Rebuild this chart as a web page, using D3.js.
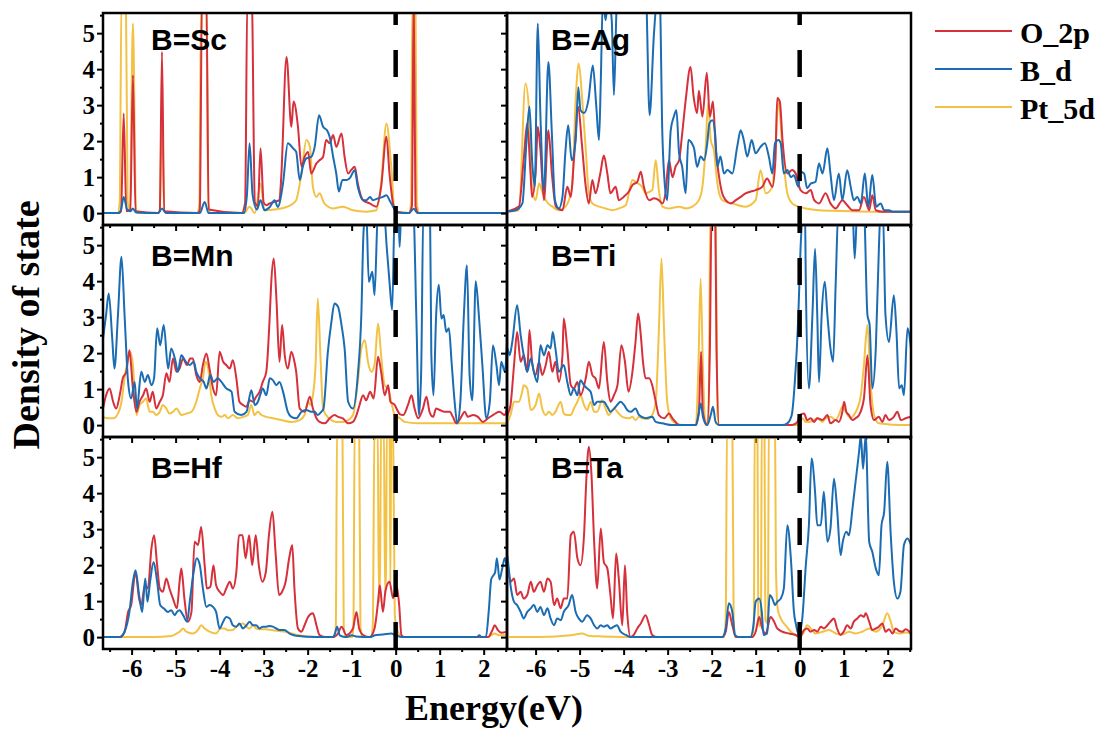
<!DOCTYPE html>
<html>
<head>
<meta charset="utf-8">
<script src="https://cdn.jsdelivr.net/npm/d3@7"></script>
<style>
  html, body { margin: 0; padding: 0; background: #fff; }
  svg { display: block; }
</style>
</head>
<body>
<svg id="chart" width="1115" height="740"></svg>
<script>
// ---- axis ticks and labels ----
const energyTicks = [-6, -5, -4, -3, -2, -1, 0, 1, 2];
const energyMinor = [-6.5, -5.5, -4.5, -3.5, -2.5, -1.5, -0.5, 0.5, 1.5, 2.5];
const dosTicks = [0, 1, 2, 3, 4, 5];
const dosMinor = [0.5, 1.5, 2.5, 3.5, 4.5, 5.5];
const seriesNames = ["O_2p", "B_d", "Pt_5d"];
const panelLabels = ["B=Sc", "B=Ag", "B=Mn", "B=Ti", "B=Hf", "B=Ta"];

// ---- projected DOS, [energy (eV), states] ----
const scO2p = [[-6.65,0],[-6.3,0],[-6.24,0.05],[-6.18,2.77],[-6.12,0.05],[-6.03,0.1],[-5.97,3.83],[-5.91,0.05],[-5.4,0],[-5.36,0.05],[-5.31,4.48],[-5.26,0.05],[-4.5,0],[-4.45,0.1],[-4.4,6],[-4.3,6],[-4.25,0.1],[-3.5,0],[-3.42,0.3],[-3.37,6],[-3.27,6],[-3.2,0.3],[-3.13,0.2],[-3.07,1.8],[-3.0,0.3],[-2.94,0.22],[-2.86,0.27],[-2.75,0.32],[-2.64,0.36],[-2.6,1.0],[-2.48,4.34],[-2.37,2.4],[-2.32,3.1],[-2.22,2.4],[-2.14,1.29],[-2.07,1.56],[-1.99,1.7],[-1.92,1.1],[-1.8,1.38],[-1.73,1.47],[-1.65,1.56],[-1.58,2.03],[-1.5,1.94],[-1.42,2.17],[-1.35,1.84],[-1.23,2.21],[-1.16,1.56],[-1.08,1.1],[-1.01,1.2],[-0.93,1.29],[-0.86,0.82],[-0.74,0.36],[-0.59,0.27],[-0.44,0.18],[-0.33,0.73],[-0.21,2.12],[-0.14,1.1],[-0.06,0.27],[0.02,0.03],[0.3,0],[0.37,0.2],[0.41,6],[0.45,0.2],[0.52,0],[2.53,0]];
const scBd = [[-6.65,0],[-6.3,0],[-6.24,0.1],[-6.18,0.45],[-6.1,0.1],[-6.03,0.05],[-5.97,0.13],[-5.9,0.02],[-5.4,0],[-5.31,0.13],[-5.22,0],[-4.45,0],[-4.34,0.31],[-4.25,0],[-3.45,0],[-3.38,0.5],[-3.32,1.94],[-3.25,0.5],[-3.15,0.1],[-3.07,0.36],[-2.98,0.08],[-2.86,0.17],[-2.75,0.36],[-2.68,0.17],[-2.56,0.82],[-2.45,1.94],[-2.33,1.8],[-2.26,1.7],[-2.18,0.92],[-2.11,1.29],[-2.03,1.52],[-1.92,1.56],[-1.84,1.84],[-1.74,2.72],[-1.65,2.4],[-1.56,2.3],[-1.5,2.12],[-1.42,1.56],[-1.35,1.1],[-1.29,0.6],[-1.21,0.92],[-1.12,0.92],[-1.05,0.96],[-0.93,1.19],[-0.86,0.73],[-0.74,0.36],[-0.67,0.36],[-0.58,0.45],[-0.52,0.36],[-0.4,0.41],[-0.29,0.45],[-0.21,0.5],[-0.14,0.36],[-0.06,0.18],[0.03,0.02],[0.3,0],[0.41,0.12],[0.5,0],[2.53,0]];
const scPt5d = [[-6.65,0],[-6.32,0],[-6.27,0.3],[-6.23,6],[-6.13,6],[-6.09,0.3],[-6.04,0.1],[-5.97,5.27],[-5.9,0.1],[-5.84,0],[-5.4,0],[-5.36,0.1],[-5.31,2.9],[-5.26,0.1],[-5.2,0],[-4.5,0],[-4.46,0.3],[-4.42,6],[-4.3,6],[-4.26,0.3],[-4.2,0],[-3.45,0],[-3.32,0.18],[-3.2,0],[-3.07,0.82],[-2.98,0.08],[-2.75,0.1],[-2.48,0.17],[-2.33,0.27],[-2.26,0.36],[-2.14,1.1],[-2.03,2.03],[-1.95,1.85],[-1.88,0.73],[-1.8,0.45],[-1.73,0.55],[-1.62,0.27],[-1.42,0.13],[-1.2,0.18],[-0.97,0.08],[-0.67,0.04],[-0.44,0.08],[-0.33,0.82],[-0.21,2.49],[-0.1,1.29],[-0.02,0.05],[0.3,0],[0.35,0.3],[0.38,6],[0.45,6],[0.48,0.3],[0.54,0],[2.53,0]];

const agO2p = [[-6.68,0.04],[-6.38,0.18],[-6.27,1.5],[-6.19,2.5],[-6.12,1.2],[-6.08,0.45],[-6.0,1.1],[-5.95,2.4],[-5.89,1.75],[-5.81,0.36],[-5.71,2.3],[-5.63,1.1],[-5.54,0.18],[-5.39,0.08],[-5.28,0.73],[-5.2,0.45],[-5.13,1.47],[-5.03,2.95],[-4.95,1.94],[-4.86,0.73],[-4.79,0.27],[-4.71,0.92],[-4.64,0.55],[-4.53,1.1],[-4.45,1.6],[-4.37,1.1],[-4.3,0.55],[-4.18,0.73],[-4.11,0.36],[-4.0,0.45],[-3.88,0.6],[-3.8,0.78],[-3.69,0.87],[-3.61,1.15],[-3.54,0.73],[-3.42,0.36],[-3.31,0.41],[-3.2,0.36],[-3.12,0.27],[-3.05,0.55],[-2.97,1.47],[-2.89,1.0],[-2.82,1.29],[-2.74,1.47],[-2.67,2.2],[-2.59,3.14],[-2.48,4.06],[-2.41,3.24],[-2.33,2.78],[-2.29,3.4],[-2.21,2.68],[-2.11,3.9],[-2.04,2.68],[-1.97,3.1],[-1.91,1.84],[-1.83,1.0],[-1.76,0.55],[-1.68,0.36],[-1.57,0.27],[-1.45,0.36],[-1.34,0.45],[-1.23,0.55],[-1.11,0.6],[-1.0,0.64],[-0.85,0.73],[-0.74,0.96],[-0.62,0.73],[-0.55,1.5],[-0.51,3.2],[-0.45,3.1],[-0.39,2.03],[-0.28,1.1],[-0.17,1.2],[-0.09,1.1],[0.02,0.64],[0.14,0.55],[0.25,0.64],[0.33,0.36],[0.44,0.27],[0.59,0.55],[0.7,0.27],[0.82,0.13],[0.97,0.36],[1.08,0.22],[1.2,0.08],[1.35,0.08],[1.46,0.45],[1.58,0.08],[1.65,0.5],[1.73,0.08],[1.88,0.04],[2.53,0.04]];
const agBd = [[-6.68,0.04],[-6.45,0.08],[-6.3,0.27],[-6.21,1.94],[-6.14,2.96],[-6.08,1.47],[-6.02,0.73],[-5.95,5.27],[-5.89,2.68],[-5.81,0.64],[-5.71,4.2],[-5.63,2.2],[-5.56,0.36],[-5.47,0.13],[-5.39,0.45],[-5.32,1.75],[-5.26,2.44],[-5.18,1.47],[-5.09,2.03],[-5.03,3.5],[-4.98,2.86],[-4.9,2.78],[-4.8,3.14],[-4.7,4.1],[-4.62,2.95],[-4.56,2.03],[-4.52,3.6],[-4.47,6],[-4.41,5.36],[-4.35,6],[-4.27,5.36],[-4.22,3.28],[-4.15,6],[-4.07,6.3],[-3.5,6.3],[-3.41,2.72],[-3.31,5.0],[-3.23,6],[-3.18,6],[-3.12,2.2],[-3.06,0.73],[-3.01,0.36],[-2.93,2.3],[-2.86,2.68],[-2.8,2.86],[-2.74,1.66],[-2.67,1.29],[-2.59,0.55],[-2.53,2.03],[-2.45,1.94],[-2.4,1.8],[-2.33,1.29],[-2.25,1.57],[-2.17,1.47],[-2.1,1.94],[-2.05,2.5],[-1.98,2.58],[-1.92,2.2],[-1.87,1.29],[-1.8,1.57],[-1.72,1.1],[-1.64,1.2],[-1.53,1.1],[-1.42,1.84],[-1.34,2.3],[-1.27,2.03],[-1.19,1.57],[-1.09,2.03],[-1.0,1.66],[-0.89,1.84],[-0.79,1.94],[-0.7,1.57],[-0.62,1.1],[-0.56,1.94],[-0.48,2.03],[-0.43,1.94],[-0.36,1.1],[-0.28,1.2],[-0.2,1.0],[-0.13,1.05],[-0.03,0.73],[0.02,1.15],[0.1,1.1],[0.17,0.69],[0.25,0.82],[0.36,0.87],[0.44,1.38],[0.52,1.1],[0.63,1.8],[0.7,1.1],[0.78,0.36],[0.89,1.1],[0.97,0.36],[1.08,1.19],[1.16,0.73],[1.23,0.36],[1.31,0.45],[1.39,0.27],[1.48,1.1],[1.56,0.18],[1.65,1.06],[1.74,0.18],[1.84,0.27],[1.92,0.08],[2.03,0.08],[2.11,0.04],[2.53,0.04]];
const agPt5d = [[-6.68,0.04],[-6.38,0.08],[-6.23,3.6],[-6.15,2.86],[-6.08,0.73],[-6.0,0.36],[-5.92,0.82],[-5.85,0.6],[-5.77,0.36],[-5.62,0.18],[-5.47,0.08],[-5.32,0.18],[-5.17,0.73],[-5.09,3.14],[-5.02,4.16],[-4.94,3.14],[-4.86,1.75],[-4.79,0.55],[-4.71,0.27],[-4.56,0.18],[-4.41,0.13],[-4.26,0.08],[-4.11,0.13],[-3.95,0.22],[-3.8,0.92],[-3.73,0.87],[-3.58,0.73],[-3.5,0.55],[-3.35,0.64],[-3.27,1.47],[-3.2,0.64],[-3.12,0.18],[-2.97,0.13],[-2.74,0.18],[-2.59,0.13],[-2.44,0.18],[-2.29,0.36],[-2.21,0.73],[-2.14,1.75],[-2.08,3.05],[-2.02,2.03],[-1.95,1.75],[-1.87,0.82],[-1.76,0.36],[-1.53,0.27],[-1.23,0.18],[-1.0,0.36],[-0.89,1.19],[-0.77,0.55],[-0.62,0.73],[-0.55,1.84],[-0.48,3.14],[-0.39,1.75],[-0.28,0.55],[-0.17,0.27],[-0.02,0.18],[0.14,0.13],[0.44,0.08],[0.89,0.06],[1.65,0.04],[2.53,0.04]];

const mnO2p = [[-6.65,0.46],[-6.58,0.83],[-6.5,1.02],[-6.42,0.65],[-6.35,0.46],[-6.27,0.83],[-6.2,1.3],[-6.12,1.48],[-6.05,2.08],[-5.97,1.02],[-5.89,0.37],[-5.82,0.65],[-5.74,0.83],[-5.67,1.02],[-5.59,0.65],[-5.52,0.93],[-5.44,0.46],[-5.36,0.65],[-5.29,0.83],[-5.21,1.44],[-5.14,1.2],[-5.06,1.85],[-4.98,1.48],[-4.91,1.57],[-4.83,1.85],[-4.74,1.67],[-4.67,1.85],[-4.61,1.85],[-4.53,1.39],[-4.45,1.2],[-4.38,1.67],[-4.3,1.99],[-4.23,1.57],[-4.15,1.02],[-4.08,0.83],[-4.0,2.04],[-3.92,1.76],[-3.85,1.67],[-3.77,1.57],[-3.7,1.8],[-3.62,1.3],[-3.55,0.65],[-3.47,0.56],[-3.39,0.51],[-3.32,0.69],[-3.24,0.65],[-3.17,0.79],[-3.09,0.93],[-3.02,1.2],[-2.94,1.48],[-2.86,3.06],[-2.83,3.89],[-2.77,4.63],[-2.71,3.52],[-2.64,1.76],[-2.58,2.78],[-2.52,1.94],[-2.45,1.57],[-2.37,2.04],[-2.3,1.76],[-2.26,1.48],[-2.18,0.46],[-2.07,0.37],[-1.95,0.79],[-1.88,0.46],[-1.8,0.19],[-1.73,0.09],[-1.61,0.05],[-1.5,0.19],[-1.39,0.28],[-1.31,0.23],[-1.2,0.19],[-1.08,0.05],[-0.97,0.09],[-0.89,0.28],[-0.82,0.56],[-0.74,0.83],[-0.67,0.69],[-0.58,0.93],[-0.5,0.74],[-0.4,1.9],[-0.33,1.48],[-0.25,0.83],[-0.17,1.11],[-0.12,0.65],[-0.02,0.56],[0.02,0.46],[0.1,0.3],[0.17,0.28],[0.28,0.56],[0.36,0.83],[0.43,0.46],[0.51,0.19],[0.62,0.46],[0.7,0.79],[0.77,0.37],[0.85,0.23],[0.92,0.46],[1.0,0.42],[1.11,0.37],[1.23,0.37],[1.3,0.23],[1.38,0.05],[1.49,0.23],[1.57,0.37],[1.64,0.23],[1.76,0.28],[1.87,0.23],[1.98,0.09],[2.1,0.19],[2.21,0.28],[2.36,0.37],[2.48,0.28],[2.53,0.46]];
const mnBd = [[-6.65,2.4],[-6.58,3.06],[-6.52,3.66],[-6.44,2.4],[-6.39,1.57],[-6.31,3.06],[-6.23,4.68],[-6.16,3.06],[-6.08,1.2],[-6.01,0.74],[-5.93,1.2],[-5.88,0.46],[-5.78,1.48],[-5.7,1.2],[-5.63,1.39],[-5.55,1.11],[-5.49,1.3],[-5.42,2.69],[-5.35,2.22],[-5.27,2.78],[-5.17,1.57],[-5.1,2.13],[-5.0,1.76],[-4.95,1.48],[-4.87,1.94],[-4.77,1.76],[-4.68,1.67],[-4.59,1.76],[-4.53,1.48],[-4.45,1.3],[-4.36,1.2],[-4.3,1.02],[-4.21,1.39],[-4.14,1.2],[-4.04,1.3],[-3.96,1.2],[-3.85,1.02],[-3.73,0.93],[-3.66,0.37],[-3.51,0.28],[-3.39,0.37],[-3.28,0.97],[-3.2,0.56],[-3.13,0.65],[-3.08,0.83],[-3.02,1.02],[-2.94,0.83],[-2.86,1.3],[-2.79,1.25],[-2.71,1.11],[-2.64,1.2],[-2.56,0.93],[-2.45,0.37],[-2.37,0.23],[-2.26,0.19],[-2.14,0.37],[-2.03,0.42],[-1.92,0.37],[-1.84,0.37],[-1.77,0.28],[-1.69,0.37],[-1.64,0.46],[-1.54,2.04],[-1.46,2.87],[-1.39,3.38],[-1.31,3.29],[-1.23,2.78],[-1.16,2.13],[-1.08,0.65],[-0.97,0.46],[-0.86,1.39],[-0.78,3.06],[-0.73,5.37],[-0.67,6],[-0.61,3.98],[-0.53,4.26],[-0.48,3.61],[-0.4,6],[-0.27,6],[-0.2,4.9],[-0.14,3.98],[-0.08,3.2],[-0.02,6],[0.06,6],[0.09,4.95],[0.13,6],[0.4,6],[0.47,3.0],[0.53,0.28],[0.58,1.5],[0.63,6],[0.78,6],[0.81,2.0],[0.86,0.83],[0.92,3.06],[0.98,3.9],[1.04,2.96],[1.09,3.06],[1.15,2.59],[1.21,2.69],[1.27,1.76],[1.34,0.65],[1.4,0.05],[1.47,0.65],[1.55,3.06],[1.62,4.44],[1.68,1.39],[1.74,0.69],[1.82,4.0],[1.89,3.06],[1.97,1.67],[2.06,0.19],[2.14,0.65],[2.21,2.22],[2.29,1.67],[2.35,1.11],[2.4,1.76],[2.48,1.48],[2.53,2.3]];
const mnPt5d = [[-6.65,0.23],[-6.54,0.19],[-6.42,0.19],[-6.31,0.32],[-6.23,0.65],[-6.16,1.3],[-6.08,1.85],[-6.03,2.04],[-5.97,1.67],[-5.89,0.28],[-5.82,0.56],[-5.74,0.65],[-5.67,0.74],[-5.59,0.37],[-5.52,0.37],[-5.44,0.28],[-5.36,0.37],[-5.29,0.56],[-5.21,0.46],[-5.14,0.32],[-5.06,0.37],[-4.98,0.46],[-4.87,0.28],[-4.76,0.32],[-4.64,0.37],[-4.53,0.65],[-4.45,1.02],[-4.38,1.3],[-4.32,1.76],[-4.26,1.57],[-4.19,0.83],[-4.11,0.46],[-4.04,0.28],[-3.96,0.23],[-3.88,0.28],[-3.81,0.19],[-3.7,0.28],[-3.58,0.19],[-3.47,0.23],[-3.36,0.28],[-3.28,0.56],[-3.21,0.28],[-3.13,0.37],[-3.05,0.28],[-2.94,0.23],[-2.79,0.19],[-2.6,0.14],[-2.37,0.09],[-2.18,0.14],[-2.07,0.28],[-1.99,0.65],[-1.94,0.56],[-1.88,0.83],[-1.82,1.67],[-1.77,3.52],[-1.71,1.94],[-1.65,0.46],[-1.58,0.28],[-1.46,0.14],[-1.35,0.09],[-1.2,0.09],[-1.08,0.14],[-0.97,0.28],[-0.86,1.2],[-0.78,2.13],[-0.7,2.36],[-0.63,1.76],[-0.55,1.48],[-0.48,1.67],[-0.4,2.82],[-0.33,1.94],[-0.25,1.11],[-0.17,1.02],[-0.1,0.65],[-0.02,0.28],[0.1,0.19],[0.2,0.09],[0.5,0.05],[1.0,0.05],[2.53,0.05]];

const tiO2p = [[-6.68,0.2],[-6.64,0.28],[-6.57,0.56],[-6.49,1.67],[-6.42,2.59],[-6.34,1.76],[-6.27,1.94],[-6.19,1.48],[-6.14,2.64],[-6.08,1.76],[-6.0,1.39],[-5.92,1.76],[-5.85,1.39],[-5.77,1.67],[-5.7,2.04],[-5.62,1.48],[-5.55,1.76],[-5.47,1.2],[-5.39,1.94],[-5.36,2.96],[-5.28,2.13],[-5.2,1.11],[-5.13,1.02],[-5.05,1.2],[-4.98,0.83],[-4.86,1.3],[-4.79,1.76],[-4.71,1.39],[-4.64,1.3],[-4.56,1.02],[-4.45,2.31],[-4.37,1.2],[-4.3,0.65],[-4.22,0.83],[-4.14,1.11],[-4.05,2.22],[-3.97,1.76],[-3.89,0.93],[-3.8,1.48],[-3.73,2.31],[-3.67,3.1],[-3.61,2.5],[-3.56,1.76],[-3.5,1.3],[-3.42,1.3],[-3.35,1.11],[-3.27,0.65],[-3.2,0.28],[-3.08,0.19],[-2.97,0.32],[-2.89,0.19],[-2.82,0.09],[-2.74,0],[-2.36,0],[-2.29,0.37],[-2.24,2.04],[-2.2,0.37],[-2.1,0],[-2.04,2.13],[-2.0,6],[-1.92,6],[-1.89,2.13],[-1.83,0],[-0.17,0],[-0.05,0.09],[0,0.28],[0.1,0.32],[0.17,0.14],[0.25,0.19],[0.33,0.09],[0.4,0.19],[0.52,0.14],[0.63,0.28],[0.7,0.05],[0.82,0.14],[0.89,0.09],[0.97,0.37],[1.01,0.65],[1.06,0.37],[1.12,0.28],[1.2,0.14],[1.27,0.19],[1.35,0.28],[1.46,0.74],[1.54,1.94],[1.61,0.56],[1.69,0.14],[1.8,0.23],[1.88,0.09],[1.95,0.28],[2.03,0.14],[2.14,0.23],[2.22,0.37],[2.3,0.14],[2.41,0.19],[2.53,0.23]];
const tiBd = [[-6.68,2.0],[-6.64,2.13],[-6.59,1.94],[-6.53,2.31],[-6.42,3.33],[-6.34,2.5],[-6.27,1.94],[-6.19,1.48],[-6.11,1.85],[-6.04,1.48],[-5.96,1.2],[-5.89,2.22],[-5.81,1.94],[-5.73,2.22],[-5.66,2.13],[-5.61,2.59],[-5.55,2.13],[-5.47,1.48],[-5.36,1.67],[-5.28,1.2],[-5.2,0.83],[-5.13,1.02],[-5.05,0.83],[-4.98,1.25],[-4.9,1.11],[-4.83,1.02],[-4.75,0.93],[-4.67,0.56],[-4.6,0.65],[-4.52,0.65],[-4.45,0.65],[-4.37,0.51],[-4.3,0.37],[-4.18,0.51],[-4.07,0.65],[-3.99,0.56],[-3.92,0.42],[-3.84,0.37],[-3.73,0.46],[-3.65,0.28],[-3.5,0.19],[-3.35,0.23],[-3.27,0.09],[-3.12,0.05],[-2.89,0],[-2.36,0],[-2.3,0.28],[-2.25,0.6],[-2.19,0.19],[-2.1,0],[-2.02,0.28],[-1.97,0.51],[-1.91,0.09],[-1.83,0],[-0.39,0],[-0.28,0.05],[-0.18,0.28],[-0.11,1.2],[-0.03,3.06],[0.02,4.9],[0.08,6],[0.12,6],[0.14,3.98],[0.21,1.02],[0.29,3.06],[0.35,4.9],[0.4,3.06],[0.44,1.2],[0.5,3.06],[0.57,3.98],[0.63,3.06],[0.7,2.13],[0.76,1.76],[0.82,3.98],[0.88,6],[1.2,6],[1.25,4.63],[1.31,6],[1.46,6],[1.54,3.06],[1.59,2.78],[1.65,1.02],[1.73,2.13],[1.8,4.9],[1.84,6],[1.89,6],[1.95,3.06],[2.03,2.31],[2.14,3.61],[2.2,2.59],[2.26,1.02],[2.32,1.11],[2.37,0.83],[2.45,2.69],[2.53,2.13]];
const tiPt5d = [[-6.68,0.05],[-6.64,0.09],[-6.57,0.28],[-6.49,0.65],[-6.38,0.65],[-6.31,0.9],[-6.27,1.11],[-6.19,1.02],[-6.11,0.42],[-6.0,0.56],[-5.92,0.88],[-5.85,0.46],[-5.77,0.28],[-5.7,0.37],[-5.62,0.28],[-5.55,0.37],[-5.43,0.65],[-5.36,0.32],[-5.28,0.28],[-5.2,0.28],[-5.13,0.46],[-5.05,0.65],[-4.98,0.83],[-4.9,0.56],[-4.83,0.42],[-4.75,0.65],[-4.67,0.37],[-4.6,0.37],[-4.49,0.69],[-4.41,0.46],[-4.34,0.28],[-4.22,0.46],[-4.11,0.32],[-4.03,0.23],[-3.88,0.19],[-3.8,0.23],[-3.73,0.14],[-3.65,0.23],[-3.58,0.19],[-3.46,0.17],[-3.35,0.28],[-3.27,0.65],[-3.2,2.59],[-3.14,4.63],[-3.08,2.59],[-3.01,0.65],[-2.93,0.19],[-2.82,0.05],[-2.6,0],[-2.36,0],[-2.3,1.67],[-2.25,4.07],[-2.2,1.67],[-2.14,0],[-2.07,0.3],[-2.03,6],[-1.91,6],[-1.87,0.3],[-1.82,0],[-0.15,0],[-0.02,0],[0.06,0.19],[0.14,0.09],[0.21,0.09],[0.33,0.14],[0.4,0.19],[0.52,0.09],[0.59,0.19],[0.7,0.23],[0.82,0.14],[0.89,0.28],[0.97,0.51],[1.05,0.37],[1.16,0.19],[1.23,0.28],[1.31,0.46],[1.39,0.83],[1.46,1.67],[1.54,2.78],[1.61,1.2],[1.69,0.28],[1.8,0.05],[2.03,0.02],[2.53,0]];

const hfO2p = [[-6.65,0],[-6.27,0],[-6.16,0.15],[-6.08,0.7],[-6.01,0.89],[-5.91,1.81],[-5.83,1.07],[-5.78,0.89],[-5.7,1.44],[-5.63,1.35],[-5.55,2.46],[-5.49,2.83],[-5.42,2.0],[-5.36,1.35],[-5.29,1.26],[-5.21,1.63],[-5.14,1.35],[-5.06,1.07],[-4.97,0.8],[-4.91,1.54],[-4.87,1.91],[-4.8,1.07],[-4.72,0.43],[-4.64,0.7],[-4.57,2.65],[-4.49,2.56],[-4.42,3.06],[-4.34,2.0],[-4.29,1.35],[-4.21,1.4],[-4.14,2.0],[-4.08,1.44],[-4.0,1.26],[-3.92,1.17],[-3.85,1.35],[-3.77,1.54],[-3.7,1.35],[-3.62,1.81],[-3.56,2.83],[-3.48,2.83],[-3.41,2.19],[-3.33,2.83],[-3.26,2.0],[-3.18,2.83],[-3.11,2.0],[-3.03,1.54],[-2.95,1.81],[-2.88,2.83],[-2.8,3.48],[-2.73,2.37],[-2.65,1.17],[-2.58,1.26],[-2.5,1.54],[-2.42,2.19],[-2.35,2.56],[-2.3,1.35],[-2.22,0.24],[-2.14,0.15],[-2.07,0.33],[-1.99,0.56],[-1.88,0.66],[-1.8,0.33],[-1.73,0.06],[-1.58,0],[-1.42,0],[-1.31,0.1],[-1.23,0.29],[-1.12,0.06],[-0.97,0.24],[-0.89,0.7],[-0.83,0.24],[-0.74,0.06],[-0.59,0],[-0.48,0.24],[-0.4,0.98],[-0.36,1.44],[-0.29,0.7],[-0.23,1.3],[-0.14,1.54],[-0.06,1.08],[0.02,1.44],[0.08,0.89],[0.13,0.06],[0.2,0],[2.1,0],[2.2,0.2],[2.25,0.33],[2.32,0.2],[2.4,0.12],[2.53,0.15]];
const hfBd = [[-6.65,0],[-6.27,0],[-6.16,0.15],[-6.05,0.7],[-5.97,1.54],[-5.91,1.86],[-5.83,1.17],[-5.76,0.7],[-5.69,1.63],[-5.64,0.98],[-5.58,1.54],[-5.5,2.09],[-5.42,1.54],[-5.35,0.89],[-5.27,0.8],[-5.17,0.7],[-5.1,0.75],[-5.02,0.61],[-4.97,0.7],[-4.91,0.75],[-4.83,0.61],[-4.74,0.43],[-4.67,1.07],[-4.59,1.81],[-4.52,2.19],[-4.45,2.0],[-4.38,1.35],[-4.3,0.84],[-4.23,0.89],[-4.15,0.84],[-4.08,0.7],[-4.0,0.24],[-3.92,0.43],[-3.85,0.56],[-3.77,0.52],[-3.7,0.33],[-3.62,0.29],[-3.55,0.38],[-3.47,0.24],[-3.39,0.33],[-3.32,0.43],[-3.24,0.33],[-3.17,0.33],[-3.09,0.24],[-3.02,0.29],[-2.94,0.29],[-2.86,0.31],[-2.79,0.29],[-2.71,0.24],[-2.64,0.2],[-2.53,0.2],[-2.41,0.1],[-2.26,0.04],[-1.8,0],[-1.42,0],[-1.38,0.1],[-1.33,0.29],[-1.27,0.05],[-1.12,0],[-1.0,0.05],[-0.9,0.02],[-0.6,0],[-0.44,0.06],[-0.29,0.07],[-0.1,0.1],[0.0,0.05],[0.15,0],[1.85,0],[1.9,0.05],[1.95,0],[2.05,0],[2.12,0.8],[2.17,1.6],[2.21,1.7],[2.26,1.8],[2.3,2.19],[2.36,1.6],[2.42,1.9],[2.48,2.2],[2.53,1.9]];
const hfPt5d = [[-6.65,0],[-5.5,0],[-5.1,0.03],[-4.98,0.1],[-4.91,0.15],[-4.83,0.24],[-4.76,0.15],[-4.61,0.1],[-4.49,0.2],[-4.42,0.33],[-4.34,0.24],[-4.23,0.15],[-4.08,0.1],[-3.98,0.24],[-3.89,0.24],[-3.81,0.19],[-3.7,0.2],[-3.62,0.29],[-3.55,0.35],[-3.47,0.38],[-3.39,0.29],[-3.32,0.24],[-3.24,0.33],[-3.17,0.24],[-3.09,0.22],[-2.95,0.22],[-2.8,0.19],[-2.65,0.17],[-2.5,0.15],[-2.35,0.1],[-2.2,0.05],[-1.8,0],[-1.4,0],[-1.36,0.3],[-1.33,6],[-1.21,6],[-1.18,0.3],[-1.13,0],[-0.99,0],[-0.96,0.3],[-0.93,6],[-0.83,6],[-0.8,0.3],[-0.76,0],[-0.56,0],[-0.52,0.3],[-0.48,6],[-0.41,6],[-0.38,1.0],[-0.36,1.0],[-0.33,6],[-0.27,6],[-0.24,1.2],[-0.22,1.2],[-0.2,6],[-0.14,6],[-0.12,1.5],[-0.1,6],[-0.06,6],[-0.02,0.6],[0.05,0.15],[0.15,0],[2.1,0],[2.25,0.1],[2.35,0.05],[2.53,0.05]];

const taO2p = [[-6.68,2.1],[-6.64,2.0],[-6.57,1.54],[-6.49,1.63],[-6.42,1.17],[-6.34,1.26],[-6.27,1.07],[-6.19,1.17],[-6.11,1.54],[-6.04,1.26],[-5.96,1.44],[-5.89,1.54],[-5.81,1.26],[-5.73,1.63],[-5.66,1.54],[-5.58,0.89],[-5.51,1.07],[-5.43,0.8],[-5.36,1.07],[-5.28,1.07],[-5.2,2.83],[-5.13,2.93],[-5.05,2.19],[-4.98,2.0],[-4.9,2.83],[-4.85,4.31],[-4.79,5.29],[-4.73,4.5],[-4.67,2.65],[-4.6,1.35],[-4.52,3.02],[-4.45,2.09],[-4.37,1.91],[-4.3,1.17],[-4.24,0.52],[-4.17,2.32],[-4.11,1.63],[-4.03,0.33],[-3.97,2.0],[-3.92,0.7],[-3.84,0],[-3.77,0.06],[-3.69,0.24],[-3.61,0.38],[-3.5,0.61],[-3.42,0.33],[-3.35,0.06],[-3.23,0],[-1.76,0],[-1.68,0.15],[-1.61,0.7],[-1.53,0.33],[-1.45,0],[-1.08,0],[-1.0,0.15],[-0.92,0.56],[-0.85,0.24],[-0.77,0.1],[-0.66,0.56],[-0.58,0.43],[-0.51,0.24],[-0.39,0.15],[-0.24,0.1],[-0.09,0.06],[0,0],[0.1,0.2],[0.17,0.24],[0.25,0.15],[0.33,0.2],[0.4,0.15],[0.48,0.29],[0.55,0.24],[0.63,0.33],[0.7,0.43],[0.78,0.52],[0.85,0.24],[0.93,0.06],[1.0,0.15],[1.08,0.33],[1.16,0.24],[1.23,0.43],[1.31,0.52],[1.39,0.61],[1.46,0.56],[1.5,0.66],[1.58,0.43],[1.65,0.2],[1.73,0.24],[1.8,0.29],[1.88,0.38],[1.95,0.15],[2.03,0.22],[2.11,0.1],[2.18,0.24],[2.26,0.17],[2.33,0.15],[2.41,0.22],[2.53,0.1]];
const taBd = [[-6.68,2.4],[-6.64,2.23],[-6.57,1.44],[-6.49,0.98],[-6.42,0.89],[-6.34,0.7],[-6.27,0.52],[-6.19,0.7],[-6.11,0.8],[-6.04,0.89],[-5.96,0.7],[-5.89,0.84],[-5.81,0.61],[-5.73,0.8],[-5.66,0.52],[-5.58,0.33],[-5.51,0.52],[-5.43,0.47],[-5.36,0.7],[-5.25,0.89],[-5.17,1.17],[-5.09,0.7],[-5.02,0.52],[-4.94,0.43],[-4.83,0.61],[-4.75,0.52],[-4.67,0.33],[-4.6,0.24],[-4.52,0.33],[-4.45,0.29],[-4.37,0.33],[-4.3,0.24],[-4.22,0.29],[-4.15,0.33],[-4.07,0.15],[-3.95,0.06],[-3.84,0],[-1.76,0],[-1.68,0.24],[-1.61,0.94],[-1.53,0.7],[-1.47,0.06],[-1.38,0],[-1.12,0],[-1.05,0.33],[-1.0,0.98],[-0.92,1.07],[-0.86,0.7],[-0.82,0.06],[-0.74,0.1],[-0.68,1.17],[-0.62,1.07],[-0.56,0.89],[-0.51,0.98],[-0.43,1.07],[-0.36,1.35],[-0.28,3.11],[-0.2,2.19],[-0.13,0.7],[-0.08,0.33],[-0.02,0.06],[0.06,0.52],[0.14,2.0],[0.21,3.11],[0.27,4.96],[0.35,4.04],[0.4,3.11],[0.48,3.11],[0.55,4.04],[0.63,2.65],[0.7,3.02],[0.78,4.4],[0.85,3.57],[0.93,2.28],[0.98,2.65],[1.06,2.93],[1.12,2.83],[1.2,3.57],[1.27,4.31],[1.35,5.15],[1.39,5.6],[1.44,4.68],[1.5,5.6],[1.58,2.65],[1.65,2.37],[1.73,1.91],[1.8,1.72],[1.86,3.11],[1.92,3.48],[1.99,4.87],[2.07,2.83],[2.14,1.54],[2.22,1.07],[2.29,1.26],[2.37,2.56],[2.45,2.74],[2.53,2.56]];
const taPt5d = [[-6.68,0],[-5.9,0],[-5.2,0.05],[-4.94,0.1],[-4.8,0.04],[-4.5,0.02],[-3.5,0],[-1.72,0],[-1.68,0.5],[-1.65,6],[-1.53,6],[-1.5,0.5],[-1.46,0],[-1.07,0],[-1.04,0.5],[-1.02,6],[-0.96,6],[-0.94,0.5],[-0.91,0.3],[-0.88,0.5],[-0.86,6],[-0.8,6],[-0.78,0.5],[-0.75,0.4],[-0.72,0.6],[-0.7,6],[-0.56,6],[-0.54,2.0],[-0.5,0.8],[-0.43,0.52],[-0.32,0.33],[-0.2,0.15],[-0.09,0.06],[0,0],[0.1,0.15],[0.17,0.33],[0.25,0.24],[0.36,0.1],[0.52,0.15],[0.67,0.2],[0.82,0.1],[0.97,0.07],[1.12,0.15],[1.27,0.1],[1.42,0.15],[1.58,0.24],[1.73,0.15],[1.88,0.33],[1.99,0.66],[2.07,0.43],[2.14,0.15],[2.26,0.1],[2.41,0.13],[2.53,0.1]];

// ---- figure layout ----
const svg = d3.select("#chart");
const W = 404, H = 212;
const colX = [103, 507];
const rowY = [13, 225, 437];
const labelDy = [37, 41, 41];
const labelDx = [48, 44];

const x = d3.scaleLinear().domain([-6.65, 2.53]).range([0, W]);
const y = d3.scaleLinear().domain([-0.33, 5.56]).range([H, 0]);

const colors = { "O_2p": "#d6303b", "B_d": "#1b6cb3", "Pt_5d": "#f3c245" };
const drawOrder = ["Pt_5d", "O_2p", "B_d"];
const serif = "'Liberation Serif', 'Times New Roman', serif";
const sans = "'Liberation Sans', Arial, sans-serif";

const panels = [
  { "O_2p": scO2p, "B_d": scBd, "Pt_5d": scPt5d },
  { "O_2p": agO2p, "B_d": agBd, "Pt_5d": agPt5d },
  { "O_2p": mnO2p, "B_d": mnBd, "Pt_5d": mnPt5d },
  { "O_2p": tiO2p, "B_d": tiBd, "Pt_5d": tiPt5d },
  { "O_2p": hfO2p, "B_d": hfBd, "Pt_5d": hfPt5d },
  { "O_2p": taO2p, "B_d": taBd, "Pt_5d": taPt5d }
];

const line = d3.line()
  .x(d => x(d[0]))
  .y(d => y(d[1]))
  .curve(d3.curveMonotoneX);

function styleAxis(g) {
  g.select(".domain").remove();
  g.selectAll(".tick line").attr("stroke", "#000").attr("stroke-width", 2);
  g.selectAll(".tick text")
    .attr("fill", "#000")
    .style("font-family", serif)
    .style("font-weight", "bold")
    .style("font-size", "25px");
}

panels.forEach((series, i) => {
  const col = i % 2, row = Math.floor(i / 2);
  const g = svg.append("g").attr("transform", `translate(${colX[col]},${rowY[row]})`);

  const clipId = "plot-clip-" + i;
  g.append("clipPath").attr("id", clipId)
    .append("rect").attr("width", W).attr("height", H);

  const plot = g.append("g").attr("clip-path", `url(#${clipId})`);
  drawOrder.forEach(name => {
    plot.append("path")
      .datum(series[name])
      .attr("d", line)
      .attr("fill", "none")
      .attr("stroke", colors[name])
      .attr("stroke-width", 2)
      .attr("stroke-linejoin", "round");
  });

  // Fermi level
  plot.append("line")
    .attr("x1", x(0)).attr("x2", x(0))
    .attr("y1", 0).attr("y2", H)
    .attr("stroke", "#000")
    .attr("stroke-width", 4.5)
    .attr("stroke-dasharray", "27 25")
    .attr("stroke-dashoffset", (rowY[row] + 2) % 52);

  // bottom axis
  const showX = row === 2;
  g.append("g").attr("transform", `translate(0,${H})`)
    .call(d3.axisBottom(x).tickValues(energyTicks).tickSize(6).tickPadding(4)
      .tickFormat(showX ? (d => String(d)) : () => ""))
    .call(styleAxis);
  g.append("g").attr("transform", `translate(0,${H})`)
    .call(d3.axisBottom(x).tickValues(energyMinor).tickSize(3).tickFormat(() => ""))
    .call(styleAxis);

  // left axis
  const showY = col === 0;
  g.append("g")
    .call(d3.axisLeft(y).tickValues(dosTicks).tickSize(6).tickPadding(2)
      .tickFormat(showY ? (d => String(d)) : () => ""))
    .call(styleAxis);
  g.append("g")
    .call(d3.axisLeft(y).tickValues(dosMinor).tickSize(3).tickFormat(() => ""))
    .call(styleAxis);

  // frame
  g.append("rect")
    .attr("width", W).attr("height", H)
    .attr("fill", "none")
    .attr("stroke", "#000")
    .attr("stroke-width", 2.5);

  // panel label
  g.append("text")
    .attr("x", labelDx[col]).attr("y", labelDy[row])
    .style("font-family", sans)
    .style("font-weight", "bold")
    .style("font-size", "30px")
    .attr("fill", "#000")
    .text(panelLabels[i]);
});

// axis titles
svg.append("text")
  .attr("x", 494).attr("y", 720)
  .attr("text-anchor", "middle")
  .style("font-family", serif).style("font-weight", "bold").style("font-size", "36px")
  .text("Energy(eV)");

svg.append("text")
  .attr("transform", "translate(39,325) rotate(-90)")
  .attr("text-anchor", "middle")
  .style("font-family", serif).style("font-weight", "bold").style("font-size", "38px")
  .text("Density of state");

// legend
const legendY = [31, 69, 107];
const legend = svg.append("g");
seriesNames.forEach((name, k) => {
  legend.append("line")
    .attr("x1", 935).attr("x2", 1012)
    .attr("y1", legendY[k]).attr("y2", legendY[k])
    .attr("stroke", colors[name]).attr("stroke-width", 2);
  legend.append("text")
    .attr("x", 1020).attr("y", legendY[k] + 12)
    .style("font-family", serif).style("font-weight", "bold").style("font-size", "30px")
    .text(name);
});
</script>
</body>
</html>
